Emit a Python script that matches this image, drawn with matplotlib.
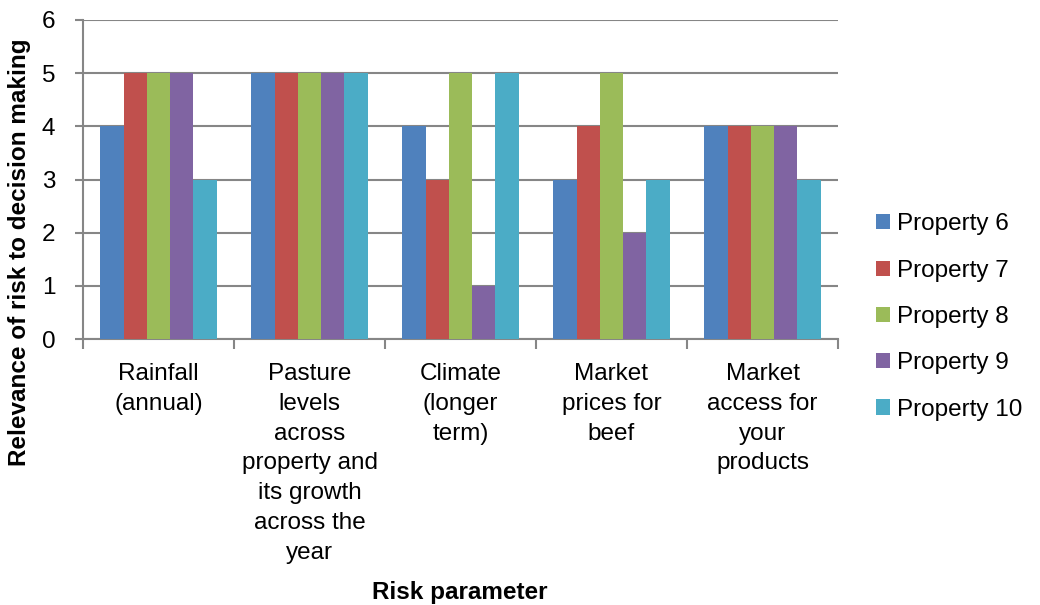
import matplotlib
matplotlib.use("Agg")
import matplotlib.pyplot as plt
import numpy as np

categories = ["Rainfall\n(annual)",
              "Pasture\nlevels\nacross\nproperty and\nits growth\nacross the\nyear",
              "Climate\n(longer\nterm)",
              "Market\nprices for\nbeef",
              "Market\naccess for\nyour\nproducts"]
series_names = ["Property 6", "Property 7", "Property 8", "Property 9", "Property 10"]
property_6 = [4, 5, 4, 3, 4]
property_7 = [5, 5, 3, 4, 4]
property_8 = [5, 5, 5, 5, 4]
property_9 = [5, 5, 1, 2, 4]
property_10 = [3, 5, 5, 3, 3]
series_values = [property_6, property_7, property_8, property_9, property_10]
colors = ["#4F81BD", "#C0504D", "#9BBB59", "#8064A2", "#4BACC6"]

plt.rcParams['font.family'] = ['Liberation Sans', 'DejaVu Sans']
FS = 17.5

fig = plt.figure(figsize=(10.4, 6.05), dpi=100)
ax = fig.add_axes([83/1040, 1-339/605, (838-83)/1040, (339-20)/605])

n = len(series_names)
bw = 1.0 / (n + 1.5)
x = np.arange(len(categories))
for i, (name, vals, c) in enumerate(zip(series_names, series_values, colors)):
    offs = (i - (n - 1) / 2) * bw
    ax.bar(x + offs, vals, width=bw, color=c, label=name, zorder=3,
           edgecolor='none')

ax.set_xlim(-0.5, len(categories) - 0.5)
ax.set_ylim(0, 6)
ax.set_yticks(range(0, 7))
ax.yaxis.grid(True, color='#868686', linewidth=1.5, zorder=0)
ax.set_axisbelow(True)

ax.set_xticks(np.arange(-0.5, len(categories), 1.0))
ax.set_xticklabels([])
ax.set_xticks(x, minor=True)
ax.set_xticklabels(categories, minor=True, fontsize=FS, linespacing=1.46, va='top')
ax.tick_params(axis='x', which='minor', length=0, pad=17.3)
ax.tick_params(axis='x', which='major', length=7, width=1.5, color='#868686', direction='out')
ax.tick_params(axis='y', length=6, width=1.5, color='#868686', direction='out',
               labelsize=FS, pad=14)

for s in ['top', 'right']:
    ax.spines[s].set_visible(False)
for s in ['left', 'bottom']:
    ax.spines[s].set_color('#868686')
    ax.spines[s].set_linewidth(1.5)

fig.text(20/1040, 1-252/605, "Relevance of risk to decision making", fontsize=FS,
         fontweight='bold', rotation=90, ha='center', va='center')
fig.text(460/1040, 1-592/605, "Risk parameter", fontsize=FS, fontweight='bold',
         ha='center', va='center')

leg = fig.legend(loc='center left', bbox_to_anchor=(876/1040, 1-317/605), fontsize=FS,
                 frameon=False, handlelength=0.58, handleheight=0.58,
                 handletextpad=0.3, labelspacing=1.0, borderaxespad=0, borderpad=0)

fig.savefig("out.png", dpi=100)
